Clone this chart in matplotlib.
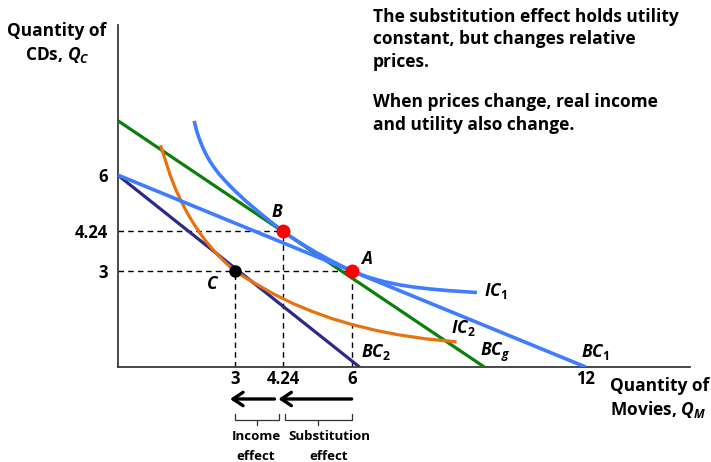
import matplotlib
matplotlib.use("Agg")
import matplotlib.pyplot as plt

FONT = 'Open Sans'
plt.rcParams['font.family'] = [FONT, 'DejaVu Sans']
plt.rcParams['font.weight'] = 'bold'
plt.rcParams['mathtext.fontset'] = 'custom'
plt.rcParams['mathtext.it'] = FONT + ':italic:bold'
plt.rcParams['mathtext.rm'] = FONT + ':bold'
plt.rcParams['mathtext.bf'] = FONT + ':bold'

# ---- data ----
bc1_x = [0, 12]
bc1_y = [6, 0]
bc2_x = [0, 6.2]
bc2_y = [6, 0]
bcg_x = [0, 9.4]
bcg_y = [7.7, 0]

ic1_x = [1.96, 2.02, 2.08, 2.14, 2.20, 2.28, 2.37, 2.48, 2.60, 2.80, 3.00, 3.30, 3.60, 3.90, 4.24,
         4.50, 4.80, 5.10, 5.40, 5.70, 6.00, 6.40, 6.80, 7.20, 7.60, 8.00, 8.50, 9.21]
ic1_y = [7.69, 7.40, 7.17, 6.98, 6.81, 6.61, 6.42, 6.22, 6.03, 5.76, 5.51, 5.17, 4.86, 4.56, 4.24,
         4.02, 3.79, 3.57, 3.37, 3.18, 3.00, 2.816, 2.676, 2.572, 2.496, 2.44, 2.385, 2.328]

ic2_x = [1.10, 1.22, 1.35, 1.48, 1.62, 1.78, 1.95, 2.10, 2.25, 2.42, 2.60, 2.80, 3.00, 3.25, 3.50,
         4.00, 4.50, 5.00, 5.50, 6.00, 6.60, 7.20, 7.90, 8.69]
ic2_y = [6.93, 6.47, 5.98, 5.57, 5.20, 4.82, 4.475, 4.20, 3.95, 3.70, 3.46, 3.22, 3.00, 2.81, 2.63,
         2.28, 1.98, 1.73, 1.51, 1.33, 1.15, 1.006, 0.88, 0.785]

pt_A = (6, 3)
pt_B = (4.24, 4.24)
pt_C = (3, 3)

x_ticks = [3, 4.24, 6, 12]
x_tick_labels = ['3', '4.24', '6', '12']
y_ticks = [3, 4.24, 6]
y_tick_labels = ['3', '4.24', '6']

note_lines = ["The substitution effect holds utility",
              "constant, but changes relative",
              "prices.",
              "When prices change, real income",
              "and utility also change."]

# ---- colours ----
BLUE = '#3F7CFF'
GREEN = '#0A800A'
ORANGE = '#E8720F'
NAVY = '#2B2A86'

W, H = 711, 462
fig = plt.figure(figsize=(W / 100, H / 100), dpi=100)
x0, y0, x1, y1 = 117.7, 367, 690, 25
ax = fig.add_axes([x0 / W, 1 - y0 / H, (x1 - x0) / W, (y0 - y1) / H])
ax.set_xlim(0, (x1 - x0) / 39.0)
ax.set_ylim(0, (y0 - y1) / 32.0)

for s in ['top', 'right']:
    ax.spines[s].set_visible(False)
for s in ['left', 'bottom']:
    ax.spines[s].set_color('#3a3a3a')
    ax.spines[s].set_linewidth(1.3)

# dashed guides
dash = dict(color='black', lw=1.0, ls=(0, (4, 3)), zorder=1)
ax.plot([0, pt_A[0]], [pt_A[1], pt_A[1]], **dash)
ax.plot([pt_A[0], pt_A[0]], [0, pt_A[1]], **dash)
ax.plot([0, pt_B[0]], [pt_B[1], pt_B[1]], **dash)
ax.plot([pt_B[0], pt_B[0]], [0, pt_B[1]], **dash)
ax.plot([pt_C[0], pt_C[0]], [0, pt_C[1]], **dash)

ax.plot(bc2_x, bc2_y, color=NAVY, lw=2.3, solid_capstyle='butt', zorder=2)
ax.plot(bcg_x, bcg_y, color=GREEN, lw=2.3, solid_capstyle='butt', zorder=3)
ax.plot(ic2_x, ic2_y, color=ORANGE, lw=2.3, solid_capstyle='butt', zorder=3)
ax.plot(bc1_x, bc1_y, color=BLUE, lw=2.6, solid_capstyle='butt', zorder=4)
ax.plot(ic1_x, ic1_y, color=BLUE, lw=2.6, solid_capstyle='butt', zorder=4)

ax.plot(*pt_A, 'o', color='#FF0000', ms=9, zorder=6)
ax.plot(*pt_B, 'o', color='#FF0000', ms=9, zorder=6)
ax.plot(*pt_C, 'o', color='black', ms=8, zorder=6)

ax.set_xticks(x_ticks, x_tick_labels)
ax.set_yticks(y_ticks, y_tick_labels)
ax.tick_params(length=0, labelsize=12, pad=2)
ax.tick_params(axis='y', pad=7)
for t in ax.get_xticklabels() + ax.get_yticklabels():
    t.set_fontweight('bold')

lab = dict(fontsize=12.5, fontweight='bold')
ax.annotate('$B$', pt_B, xytext=(-6, 19), textcoords='offset pixels', ha='center', va='center', **lab)
ax.annotate('$A$', pt_A, xytext=(15, 12), textcoords='offset pixels', ha='center', va='center', **lab)
ax.annotate('$C$', pt_C, xytext=(-22, -13), textcoords='offset pixels', ha='center', va='center', **lab)
ax.annotate(r'$IC_{\mathit{1}}$', (ic1_x[-1], ic1_y[-1]), xytext=(7, 2), textcoords='offset pixels', ha='left', va='center', **lab)
ax.annotate(r'$IC_{\mathit{2}}$', (ic2_x[-1], ic2_y[-1]), xytext=(-6, 14), textcoords='offset pixels', ha='left', va='center', **lab)
ax.annotate(r'$BC_{\mathit{2}}$', (bc2_x[1], 0), xytext=(2, 15), textcoords='offset pixels', ha='left', va='center', **lab)
ax.annotate(r'$BC_{\mathit{g}}$', (bcg_x[1], 0), xytext=(-4, 15), textcoords='offset pixels', ha='left', va='center', **lab)
ax.annotate(r'$BC_{\mathit{1}}$', (bc1_x[1], 0), xytext=(-5, 15), textcoords='offset pixels', ha='left', va='center', **lab)

# axis titles
tfs = 12.5
fig.text(57 / W, 1 - 31 / H, 'Quantity of', ha='center', va='center', fontsize=tfs, fontweight='bold')
fig.text(57 / W, 1 - 55 / H, 'CDs, $Q_C$', ha='center', va='center', fontsize=tfs, fontweight='bold')
fig.text(610 / W, 1 - 386 / H, 'Quantity of', ha='left', va='center', fontsize=tfs, fontweight='bold')
fig.text(610 / W, 1 - 410 / H, 'Movies, $Q_M$', ha='left', va='center', fontsize=tfs, fontweight='bold')

# note text
note_y = [17, 39.5, 62, 102, 125]
for s, yy in zip(note_lines, note_y):
    fig.text(373 / W, 1 - yy / H, s, ha='left', va='center', fontsize=12.5, fontweight='bold')

# effect arrows (axes-fraction y below the axis)
ytr = ax.get_xaxis_transform()
arr_y = -(399 - 367) / (y0 - y1)
aprops = dict(arrowstyle='->,head_length=0.45,head_width=0.3', lw=2.4, color='black',
              shrinkA=0, shrinkB=0, mutation_scale=16)
ax.annotate('', xy=(pt_B[0] - 0.12, arr_y), xytext=(pt_A[0], arr_y), xycoords=ytr, textcoords=ytr,
            arrowprops=aprops, annotation_clip=False)
ax.annotate('', xy=(pt_C[0] - 0.12, arr_y), xytext=(pt_B[0] - 0.22, arr_y), xycoords=ytr, textcoords=ytr,
            arrowprops=aprops, annotation_clip=False)

# braces
def bracket(xa, xb):
    yt = -(414 - 367) / (y0 - y1)
    yb = -(420 - 367) / (y0 - y1)
    ym = -(425 - 367) / (y0 - y1)
    ax.plot([xa, xa, xb, xb], [yt, yb, yb, yt], color='#333333', lw=0.9, transform=ytr, clip_on=False)
    xm = (xa + xb) / 2
    ax.plot([xm, xm], [yb, ym], color='#333333', lw=0.9, transform=ytr, clip_on=False)

bracket(pt_C[0], pt_B[0] - 0.1)
bracket(pt_B[0] + 0.05, pt_A[0])

bfs = 9.5
fig.text(256 / W, 1 - 437 / H, 'Income', ha='center', va='center', fontsize=bfs)
fig.text(256 / W, 1 - 456 / H, 'effect', ha='center', va='center', fontsize=bfs)
fig.text(329 / W, 1 - 437 / H, 'Substitution', ha='center', va='center', fontsize=bfs)
fig.text(329 / W, 1 - 456 / H, 'effect', ha='center', va='center', fontsize=bfs)

fig.savefig('out.png', dpi=100)
